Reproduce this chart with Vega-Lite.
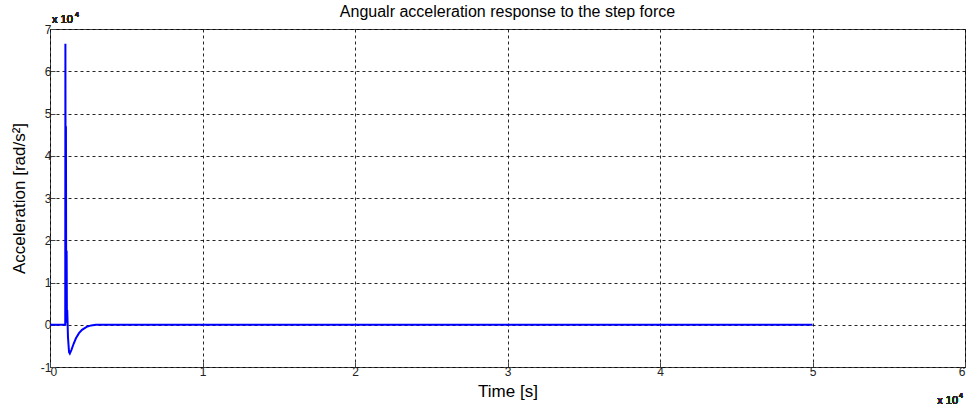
{
  "$schema": "https://vega.github.io/schema/vega-lite/v6.json",
  "autosize": "none",
  "width": 915,
  "height": 338,
  "padding": {"left": 50, "top": 29, "right": 4, "bottom": 47},
  "background": "white",
  "config": {
    "font": "Liberation Sans",
    "view": {"stroke": "#444444", "strokeWidth": 1},
    "axis": {
      "domain": false,
      "grid": true,
      "gridColor": "#000000",
      "gridDash": [3, 3],
      "gridOpacity": 0.85,
      "tickColor": "#444444",
      "tickSize": -5,
      "labelFont": "Liberation Sans",
      "labelFontSize": 12,
      "labelColor": "#222222",
      "titleFont": "Liberation Sans",
      "titleFontSize": 17,
      "titleFontWeight": "normal",
      "titleColor": "#000000"
    }
  },
  "title": {
    "text": "Angualr acceleration response to the step force",
    "font": "Liberation Sans",
    "fontSize": 16,
    "fontWeight": "normal",
    "color": "#000000",
    "anchor": "middle",
    "offset": -9
  },
  "data": {
    "values": [
      {"t": 0, "acc": 0},
      {"t": 1000, "acc": 0},
      {"t": 1010, "acc": 66500},
      {"t": 1030, "acc": 500},
      {"t": 1045, "acc": 47000},
      {"t": 1065, "acc": 2000},
      {"t": 1090, "acc": 17500},
      {"t": 1110, "acc": 1000},
      {"t": 1130, "acc": 3500},
      {"t": 1180, "acc": -3000},
      {"t": 1250, "acc": -6500},
      {"t": 1300, "acc": -6800},
      {"t": 1400, "acc": -6000},
      {"t": 1550, "acc": -4500},
      {"t": 1700, "acc": -3200},
      {"t": 1900, "acc": -2000},
      {"t": 2100, "acc": -1200},
      {"t": 2400, "acc": -500},
      {"t": 2700, "acc": -150},
      {"t": 3000, "acc": -20},
      {"t": 3200, "acc": 0},
      {"t": 50000, "acc": 0}
    ]
  },
  "layer": [
    {
      "mark": {"type": "line", "color": "#0000ff", "strokeWidth": 2, "clip": true},
      "encoding": {
        "x": {
          "field": "t",
          "type": "quantitative",
          "scale": {"domain": [0, 60000], "nice": false},
          "axis": {
            "title": "Time [s]",
            "values": [0, 10000, 20000, 30000, 40000, 50000, 60000],
            "labelExpr": "datum.value / 10000",
            "labelPadding": 4,
            "titlePadding": 6
          }
        },
        "y": {
          "field": "acc",
          "type": "quantitative",
          "scale": {"domain": [-10000, 70000], "nice": false, "zero": false},
          "axis": {
            "title": "Acceleration [rad/s²]",
            "values": [-10000, 0, 10000, 20000, 30000, 40000, 50000, 60000, 70000],
            "labelExpr": "datum.value / 10000",
            "labelPadding": 4,
            "titlePadding": 12
          }
        }
      }
    },
    {
      "mark": {"type": "text", "fontSize": 11, "fontWeight": "normal", "align": "left", "baseline": "alphabetic", "dx": 2, "dy": -6, "color": "#222222"},
      "encoding": {
        "x": {"datum": 0},
        "y": {"datum": 70000},
        "text": {"value": "x 10"}
      }
    },
    {
      "mark": {"type": "text", "fontSize": 7, "fontWeight": "normal", "align": "left", "baseline": "alphabetic", "dx": 25, "dy": -12, "color": "#222222"},
      "encoding": {
        "x": {"datum": 0},
        "y": {"datum": 70000},
        "text": {"value": "4"}
      }
    },
    {
      "mark": {"type": "text", "fontSize": 11, "fontWeight": "normal", "align": "right", "baseline": "alphabetic", "dx": -7, "dy": 37, "color": "#222222"},
      "encoding": {
        "x": {"datum": 60000},
        "y": {"datum": -10000},
        "text": {"value": "x 10"}
      }
    },
    {
      "mark": {"type": "text", "fontSize": 7, "fontWeight": "normal", "align": "left", "baseline": "alphabetic", "dx": -6, "dy": 31, "color": "#222222"},
      "encoding": {
        "x": {"datum": 60000},
        "y": {"datum": -10000},
        "text": {"value": "4"}
      }
    }
  ]
}
